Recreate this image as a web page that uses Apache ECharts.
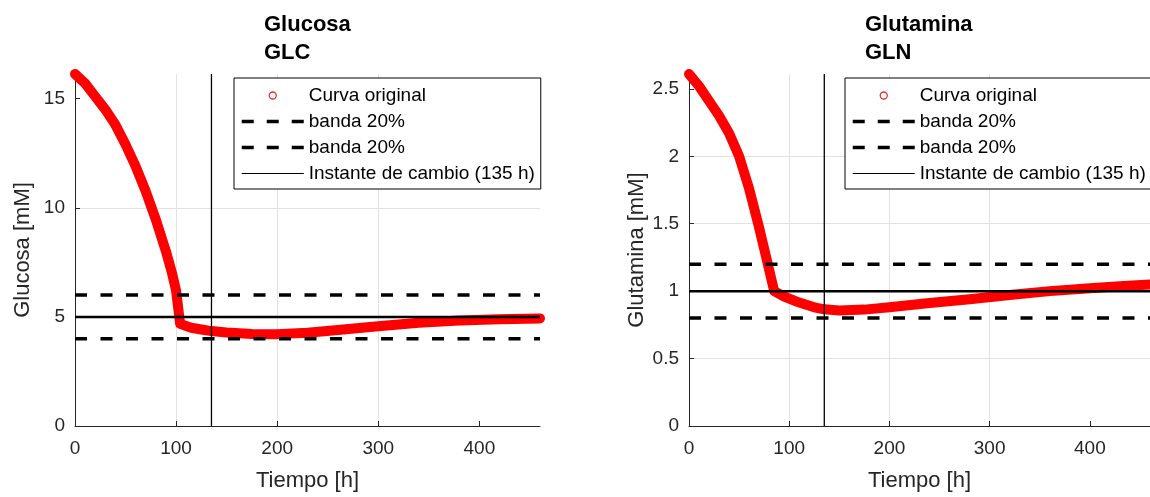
<!DOCTYPE html>
<html>
<head>
<meta charset="utf-8">
<script src="https://cdn.jsdelivr.net/npm/echarts@6/dist/echarts.min.js"></script>
<style>
html, body { margin: 0; padding: 0; background: #fff; }
#chart { width: 1150px; height: 497px; }
</style>
</head>
<body>
<div id="chart"></div>
<script>
// valores (tiempo en h, concentraciones en mM)
const tiempoGlc = [0, 10, 20, 30, 40, 50, 60, 70, 80, 90, 96, 100, 104, 115, 125, 135, 150, 175, 200, 230, 260, 300, 340, 380, 420, 460];
const glucosa = [16.13, 15.7, 15.1, 14.5, 13.8, 12.9, 11.9, 10.75, 9.45, 8.0, 7.0, 6.2, 4.68, 4.5, 4.42, 4.35, 4.28, 4.22, 4.21, 4.27, 4.4, 4.57, 4.73, 4.83, 4.89, 4.93];

const tiempoGln = [0, 10, 20, 30, 40, 50, 60, 70, 78, 85, 95, 110, 125, 135, 150, 175, 200, 240, 280, 320, 360, 400, 430, 460];
const glutamina = [2.61, 2.52, 2.41, 2.3, 2.17, 2.0, 1.76, 1.47, 1.22, 1.0, 0.96, 0.915, 0.88, 0.865, 0.857, 0.863, 0.88, 0.912, 0.94, 0.972, 1.0, 1.022, 1.037, 1.05];

const consignaGlc = 5;
const bandaGlc = [6, 4];
const consignaGln = 1;
const bandaGln = [1.2, 0.8];
const instanteCambio = 135;
const tiempoFin = 460;

const ticksTiempo = [0, 100, 200, 300, 400];
const ticksGlc = [0, 5, 10, 15];
const ticksGln = [0, 0.5, 1, 1.5, 2, 2.5];

const fuente = 'Liberation Sans, Arial, Helvetica, sans-serif';
const gris = '#262626';

const chart = echarts.init(document.getElementById('chart'));

function ejeX(idx) {
  return {
    type: 'value', gridIndex: idx, min: 0, max: tiempoFin, interval: 100,
    name: 'Tiempo [h]', nameLocation: 'middle', nameGap: 44,
    nameTextStyle: { fontFamily: fuente, fontSize: 22, color: gris },
    axisLine: { lineStyle: { color: gris, width: 1 } },
    axisTick: { inside: true, length: 5, customValues: ticksTiempo, lineStyle: { color: gris } },
    axisLabel: { customValues: ticksTiempo, margin: 13, fontFamily: fuente, fontSize: 19, color: gris },
    splitLine: { show: true, showMinLine: false, showMaxLine: false, lineStyle: { color: '#e2e2e2', width: 1 } }
  };
}

function ejeY(idx, nombre, max, paso, ticks) {
  return {
    type: 'value', gridIndex: idx, min: 0, max: max, interval: paso,
    name: nombre, nameLocation: 'middle', nameGap: 41,
    nameTextStyle: { fontFamily: fuente, fontSize: 22, color: gris },
    axisLine: { show: true, lineStyle: { color: gris, width: 1 } },
    axisTick: { show: true, inside: true, length: 5, customValues: ticks, lineStyle: { color: gris } },
    axisLabel: { customValues: ticks, margin: 10, fontFamily: fuente, fontSize: 19, color: gris },
    splitLine: { show: true, showMinLine: false, showMaxLine: false, lineStyle: { color: '#e2e2e2', width: 1 } }
  };
}

function recta(nombre, idx, puntos, ancho, tipo, z) {
  return {
    name: nombre, type: 'line', xAxisIndex: idx, yAxisIndex: idx,
    data: puntos, symbol: 'none', silent: true, clip: true, z: z,
    lineStyle: { color: '#000', width: ancho, type: tipo },
    itemStyle: { color: '#000' }
  };
}

function seriesPanel(idx, t, v, consigna, banda, ymax) {
  return [
    {
      name: 'Curva original', type: 'line', xAxisIndex: idx, yAxisIndex: idx,
      data: t.map((x, i) => [x, v[i]]), symbol: 'none', silent: true, clip: false, z: 2,
      lineStyle: { color: '#ff0000', width: 10, cap: 'round', join: 'round' },
      itemStyle: { color: '#ff0000' }
    },
    recta('banda 20% sup', idx, [[0, banda[0]], [tiempoFin, banda[0]]], 3.5, [12, 13.5], 4),
    recta('banda 20% inf', idx, [[0, banda[1]], [tiempoFin, banda[1]]], 3.5, [12, 13.5], 4),
    recta('consigna', idx, [[0, consigna], [tiempoFin, consigna]], 2.5, 'solid', 3),
    recta('Instante de cambio (135 h)', idx, [[instanteCambio, 0], [instanteCambio, ymax]], 1.3, 'solid', 5)
  ];
}

// sin simbolo en las muestras de linea de la leyenda
const sinSimbolo = { color: 'rgba(0,0,0,0)', borderWidth: 0, opacity: 0 };

function leyenda(left) {
  return {
    left: left, top: 78, orient: 'vertical',
    itemWidth: 62, itemHeight: 7, itemGap: 7,
    padding: [8, 6, 6, 6],
    backgroundColor: '#fff', borderColor: '#000', borderWidth: 1, borderRadius: 0,
    selectedMode: false, z: 10,
    textStyle: { fontFamily: fuente, fontSize: 19, color: '#000' },
    formatter: n => n.indexOf('banda') === 0 ? 'banda 20%' : n,
    data: [
      { name: 'Curva original', icon: 'circle', itemStyle: { color: '#fff', borderColor: '#e03030', borderWidth: 1.3 } },
      { name: 'banda 20% sup', itemStyle: sinSimbolo, lineStyle: { width: 3.5, type: [12, 13] } },
      { name: 'banda 20% inf', itemStyle: sinSimbolo, lineStyle: { width: 3.5, type: [12, 13] } },
      { name: 'Instante de cambio (135 h)', itemStyle: sinSimbolo, lineStyle: { width: 1.2 } }
    ]
  };
}

const maxGlc = Math.max(...glucosa);
const maxGln = Math.max(...glutamina);

const option = {
  animation: false,
  backgroundColor: '#fff',
  title: [
    { text: 'Glucosa\nGLC', left: 264, top: 11, padding: 0,
      textStyle: { fontFamily: fuente, fontSize: 22, fontWeight: 'bold', lineHeight: 28, color: '#000' } },
    { text: 'Glutamina\nGLN', left: 865, top: 11, padding: 0,
      textStyle: { fontFamily: fuente, fontSize: 22, fontWeight: 'bold', lineHeight: 28, color: '#000' } }
  ],
  legend: [leyenda(234), leyenda(845)],
  grid: [
    { left: 75, top: 74, width: 465, height: 355 },
    { left: 689, top: 74, width: 465, height: 355 }
  ],
  xAxis: [ejeX(0), ejeX(1)],
  yAxis: [
    ejeY(0, 'Glucosa [mM]', maxGlc, 5, ticksGlc),
    ejeY(1, 'Glutamina [mM]', maxGln, 0.5, ticksGln)
  ],
  series: [
    ...seriesPanel(0, tiempoGlc, glucosa, consignaGlc, bandaGlc, maxGlc),
    ...seriesPanel(1, tiempoGln, glutamina, consignaGln, bandaGln, maxGln)
  ]
};

chart.setOption(option);
</script>
</body>
</html>
